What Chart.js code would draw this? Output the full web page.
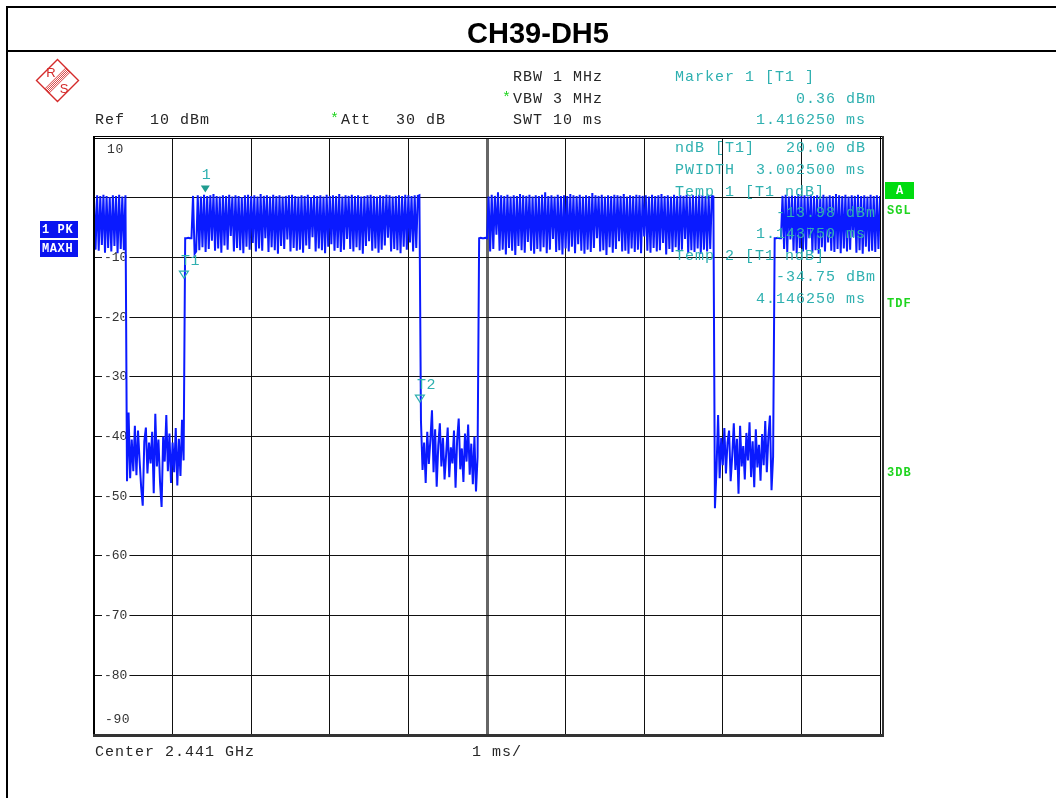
<!DOCTYPE html>
<html>
<head>
<meta charset="utf-8">
<script src="https://cdn.jsdelivr.net/npm/chart.js@4.4.1/dist/chart.umd.min.js"></script>
<style>
  body { margin: 0; background: #fff; }
  canvas { display: block; }
</style>
</head>
<body>
<canvas id="scope" width="1056" height="798"></canvas>
<script>
// zero span sweep, 501 trace points over 10 ms
const sweepStep = 0.02;

const burst1 = [0.2, -8.7, 0.4, -8.9, 0.3, -7.9, 0.5, -9.2, 0.3, -8.4, 0.1, -9.0, 0.4, -8.1, 0.3, -9.3, 0.5, -8.6, 0.2, -8.8, 0.4];
const noise1 = [-47.5, -36.0, -47.0, -40.5, -45.8, -38.2, -46.5, -39.0, -44.0, -48.5,
  -51.6, -40.8, -38.5, -46.2, -41.0, -44.5, -39.2, -49.5, -36.2, -45.0,
  -40.5, -47.6, -51.8, -40.0, -44.2, -36.4, -45.8, -39.5, -47.8, -41.0,
  -46.0, -38.6, -48.2, -40.4, -46.6, -37.2, -44.0];
const step1 = [-6.8, -6.8, -6.7, -6.8, -6.8];
const burst2 = [0.3, -9.4, -9.0, 0.4, -8.8, 0.2, -8.3, 0.5, -9.1, 0.3,
  -8.6, 0.4, -7.2, 0.6, -8.9, 0.3, -8.5, 0.2, -9.2, 0.4,
  -8.0, 0.3, -8.7, 0.5, -6.4, 0.2, -9.0, 0.4, -8.4, 0.3,
  -8.8, 0.1, -9.3, 0.4, -8.2, 0.5, -8.7, 0.3, -7.6, 0.4,
  -9.0, 0.2, -8.5, 0.6, -8.9, 0.3, -6.8, 0.4, -9.1, 0.2,
  -8.3, 0.5, -8.8, 0.3, -9.4, 0.4, -8.1, 0.2, -8.6, 0.3,
  -7.0, 0.4, -9.0, 0.5, -8.4, 0.3, -8.9, 0.2, -8.7, 0.4,
  -9.2, 0.3, -8.0, 0.5, -8.6, 0.1, -6.6, 0.4, -9.0, 0.3,
  -8.5, 0.4, -8.8, 0.2, -9.3, 0.5, -8.2, 0.3, -7.8, 0.4,
  -8.9, 0.3, -8.4, 0.6, -9.1, 0.2, -8.7, 0.4, -6.9, 0.3,
  -8.6, 0.5, -9.0, 0.3, -8.3, 0.4, -8.8, 0.2, -9.4, 0.3,
  -8.1, 0.4, -7.3, 0.5, -8.9, 0.3, -8.5, 0.2, -9.2, 0.4,
  -8.7, 0.3, -8.0, 0.5, -6.7, 0.4, -9.0, 0.2, -8.6, 0.3,
  -8.8, 0.4, -9.3, 0.3, -8.2, 0.5, -8.7, 0.4, -7.5, 0.3,
  -9.0, 0.4, -8.4, 0.3, 0.4];
const noise2 = [-37.5, -45.6, -41.0, -47.8, -39.2, -44.6, -40.5, -35.6, -46.0, -38.8,
  -48.4, -41.5, -37.8, -45.0, -40.2, -47.2, -43.0, -38.5, -46.8, -41.8,
  -44.5, -39.0, -48.6, -40.6, -37.0, -45.5, -42.0, -47.6, -39.5, -44.2,
  -38.0, -46.4, -41.2, -48.0, -40.0, -49.2, -43.4];
const step2 = [-6.8, -6.7, -6.8, -6.8, -6.7, -6.8];
const burst3 = [0.2, -9.0, 0.5, -8.6, 0.3, -6.2, 0.9, -8.9, 0.4, -8.7,
  0.3, -9.5, 0.5, -8.4, 0.2, -8.9, 0.4, -9.6, 0.3, -8.1,
  0.6, -8.8, 0.4, -9.2, 0.3, -7.4, 0.5, -8.9, 0.2, -9.4,
  0.4, -8.6, 0.3, -9.0, 0.5, -8.3, 0.9, -9.3, 0.3, -8.7,
  0.4, -6.9, 0.2, -9.1, 0.5, -8.8, 0.3, -9.5, 0.4, -8.5,
  0.3, -9.0, 0.6, -8.2, 0.4, -9.3, 0.3, -7.8, 0.5, -8.9,
  0.2, -9.4, 0.4, -8.7, 0.3, -9.1, 0.8, -8.4, 0.4, -6.8,
  0.3, -9.0, 0.5, -8.8, 0.2, -9.6, 0.4, -8.3, 0.3, -9.2,
  0.5, -8.6, 0.4, -7.3, 0.3, -9.0, 0.6, -8.9, 0.2, -9.4,
  0.4, -8.5, 0.3, -9.1, 0.5, -8.7, 0.4, -9.3, 0.3, -6.5,
  0.4, -8.9, 0.2, -9.2, 0.5, -8.4, 0.3, -9.0, 0.4, -8.8,
  0.6, -7.6, 0.3, -9.5, 0.4, -8.6, 0.2, -9.1, 0.5, -8.3,
  0.3, -9.0, 0.4, -8.7, 0.3, -6.9, 0.5, -9.3, 0.2, -8.8,
  0.4, -9.1, 0.3, -8.5, 0.5, -9.4, 0.4, -8.7, 0.3, -9.0,
  0.4, -8.6, 0.3, 0.2];
const noise3 = [-52.0, -45.5, -36.4, -47.0, -40.2, -44.8, -38.6, -46.2, -41.0, -39.0,
  -47.5, -43.2, -37.8, -45.6, -40.4, -49.6, -38.2, -45.0, -41.6, -47.2,
  -39.4, -44.0, -37.6, -46.8, -40.8, -48.5, -38.8, -45.2, -41.4, -47.4,
  -39.6, -44.8, -37.4, -46.0, -40.0, -36.5, -49.0, -43.4];
const step3 = [-6.8, -6.8, -6.7, -6.8, -6.8];
const burst4 = [0.3, -8.6, 0.5, -9.1, 0.2, -7.0, 0.4, -8.9, 0.3, -9.3,
  0.6, -8.4, 0.3, -9.0, 0.4, -8.7, 0.2, -6.8, 0.5, -9.2,
  0.3, -8.8, 0.4, -9.4, 0.3, -8.3, 0.5, -9.0, 0.2, -7.5,
  0.4, -8.9, 0.3, -9.1, 0.6, -8.6, 0.4, -9.3, 0.3, -8.5,
  0.5, -9.0, 0.2, -8.7, 0.4, -6.6, 0.3, -9.2, 0.5, -8.8,
  0.3, -9.4, 0.4, -8.2, 0.2, -9.0, 0.5, -8.9, 0.3, -9.1,
  0.4, -8.6, 0.3];

const markerNames = ["1", "T1", "T2"];
const markerTimes = [1.41625, 1.14375, 4.14625];
const markerLevels = [0.36, -13.98, -34.75];

const yTickValues = [10, 0, -10, -20, -30, -40, -50, -60, -70, -80, -90];

const trace = [].concat(burst1, noise1, step1, burst2, noise2, step2, burst3, noise3, step3, burst4);
const traceData = trace.map((v, i) => ({ x: i * sweepStep, y: v }));

const MONO = '"Liberation Mono", "DejaVu Sans Mono", monospace';
const TEAL = "#2fb0b0";
const INK = "#262626";
const GREEN = "#1fd41f";

function txt(ctx, s, x, y, color, font, spacing, align) {
  ctx.save();
  ctx.font = font || ("15px " + MONO);
  ctx.letterSpacing = spacing || "1px";
  ctx.fillStyle = color || INK;
  ctx.textAlign = align || "left";
  ctx.textBaseline = "middle";
  ctx.fillText(s, x, y);
  ctx.restore();
}

function drawLogo(ctx) {
  const cx = 57.5, cy = 80.5, r = 21;
  ctx.save();
  ctx.strokeStyle = "#d42a2a";
  ctx.lineWidth = 1.4;
  ctx.beginPath();
  ctx.moveTo(cx, cy - r);
  ctx.lineTo(cx + r, cy);
  ctx.lineTo(cx, cy + r);
  ctx.lineTo(cx - r, cy);
  ctx.closePath();
  ctx.stroke();
  ctx.lineWidth = 0.9;
  for (let d = -3; d <= 3; d += 1.5) {
    const ox = d * 0.707, oy = d * 0.707;
    ctx.beginPath();
    ctx.moveTo(cx + r / 2 + ox, cy - r / 2 + oy);
    ctx.lineTo(cx - r / 2 + ox, cy + r / 2 + oy);
    ctx.stroke();
  }
  ctx.fillStyle = "#d42a2a";
  ctx.font = '13px "Liberation Sans", sans-serif';
  ctx.textAlign = "center";
  ctx.textBaseline = "middle";
  ctx.fillText("R", 51, 73);
  ctx.fillText("S", 64, 89);
  ctx.restore();
}

const analyzerPage = {
  id: "analyzerPage",
  beforeDraw(chart) {
    const ctx = chart.ctx;
    ctx.save();
    ctx.fillStyle = "#fff";
    ctx.fillRect(0, 0, chart.width, chart.height);
    ctx.fillStyle = "#000";
    ctx.fillRect(6, 6, 1050, 2);
    ctx.fillRect(6, 50, 1050, 2);
    ctx.fillRect(6, 6, 2, 792);
    ctx.font = 'bold 29px "Liberation Sans", Arial, sans-serif';
    ctx.textAlign = "center";
    ctx.textBaseline = "alphabetic";
    ctx.fillText("CH39-DH5", 538, 43);
    ctx.restore();

    drawLogo(ctx);

    txt(ctx, "RBW 1 MHz", 513, 77);
    txt(ctx, "*", 502, 98, GREEN);
    txt(ctx, "VBW 3 MHz", 513, 99);
    txt(ctx, "SWT 10 ms", 513, 120);
    txt(ctx, "Ref", 95, 120);
    txt(ctx, "10 dBm", 150, 120);
    txt(ctx, "*", 330, 119, GREEN);
    txt(ctx, "Att", 341, 120);
    txt(ctx, "30 dB", 396, 120);
    txt(ctx, "Marker 1 [T1 ]", 675, 77, TEAL);
    txt(ctx, "0.36 dBm", 796, 99, TEAL);
    txt(ctx, "1.416250 ms", 756, 120, TEAL);
  },
  afterDatasetsDraw(chart) {
    const ctx = chart.ctx;
    const xs = chart.scales.x, ys = chart.scales.y;
    const a = chart.chartArea;
    const tickFont = "13px " + MONO;

    // y labels at the top and bottom edges
    txt(ctx, String(yTickValues[0]), a.left + 13, ys.getPixelForValue(yTickValues[0]) + 12, "#333", tickFont, "0.6px");
    txt(ctx, String(yTickValues[yTickValues.length - 1]), a.left + 11, ys.getPixelForValue(yTickValues[yTickValues.length - 1]) - 15, "#333", tickFont, "0.6px");

    // markers
    markerTimes.forEach((t, i) => {
      const px = xs.getPixelForValue(t);
      const tip = ys.getPixelForValue(markerLevels[i]) - 3;
      ctx.save();
      ctx.beginPath();
      ctx.moveTo(px - 4.5, tip - 7);
      ctx.lineTo(px + 4.5, tip - 7);
      ctx.lineTo(px, tip);
      ctx.closePath();
      if (i === 0) {
        ctx.fillStyle = "#1f9c8f";
        ctx.fill();
      } else {
        ctx.strokeStyle = TEAL;
        ctx.lineWidth = 1.2;
        ctx.stroke();
      }
      ctx.restore();
      if (i === 0) txt(ctx, markerNames[i], px + 1, tip - 18, TEAL, null, "0px", "center");
      else txt(ctx, markerNames[i], px - 3, tip - 17, TEAL, null, "0.5px");
    });

    // marker readout inside the diagram
    txt(ctx, "ndB [T1]", 675, 148, TEAL);
    txt(ctx, "20.00 dB", 786, 148, TEAL);
    txt(ctx, "PWIDTH", 675, 170, TEAL);
    txt(ctx, "3.002500 ms", 756, 170, TEAL);
    txt(ctx, "Temp 1 [T1 ndB]", 675, 192, TEAL);
    txt(ctx, "-13.98 dBm", 776, 213, TEAL);
    txt(ctx, "1.143750 ms", 756, 234, TEAL);
    txt(ctx, "Temp 2 [T1 ndB]", 675, 256, TEAL);
    txt(ctx, "-34.75 dBm", 776, 277, TEAL);
    txt(ctx, "4.146250 ms", 756, 299, TEAL);

    // diagram frame
    ctx.save();
    ctx.fillStyle = "#000";
    ctx.fillRect(a.left - 1, a.top - 2, a.right - a.left + 4, 1);
    ctx.fillRect(a.left - 1, a.top, a.right - a.left + 4, 1);
    ctx.fillRect(a.left - 1, a.top - 2, 2, a.bottom - a.top + 4);
    ctx.fillRect(a.right, a.top - 2, 1, a.bottom - a.top + 4);
    ctx.fillStyle = "#333";
    ctx.fillRect(a.right + 2, a.top - 2, 2, a.bottom - a.top + 4);
    ctx.fillRect(a.left - 1, a.bottom - 1, a.right - a.left + 5, 3);
    ctx.restore();

    // side labels
    ctx.save();
    ctx.fillStyle = "#0a14f0";
    ctx.fillRect(40, 221, 38, 17);
    ctx.fillRect(40, 240, 38, 17);
    ctx.fillStyle = "#00dc10";
    ctx.fillRect(885, 182, 29, 17);
    ctx.restore();
    const sideFont = "bold 12px " + MONO;
    txt(ctx, "1 PK", 42, 230, "#fff", sideFont, "0.6px");
    txt(ctx, "MAXH", 42, 249, "#fff", sideFont, "0.6px");
    txt(ctx, "A", 899.5, 191, "#fff", sideFont, "0px", "center");
    txt(ctx, "SGL", 887, 211, GREEN, sideFont, "1px");
    txt(ctx, "TDF", 887, 304, GREEN, sideFont, "1px");
    txt(ctx, "3DB", 887, 473, GREEN, sideFont, "1px");

    txt(ctx, "Center 2.441 GHz", 95, 752);
    txt(ctx, "1 ms/", 472, 752);
  }
};

new Chart(document.getElementById("scope"), {
  type: "line",
  data: {
    datasets: [{
      data: traceData,
      borderColor: "#0a1aff",
      borderWidth: 2,
      pointRadius: 0,
      tension: 0,
      fill: false
    }]
  },
  options: {
    responsive: false,
    animation: false,
    events: [],
    parsing: false,
    layout: { autoPadding: false, padding: { left: 94, right: 176, top: 138, bottom: 63 } },
    plugins: { legend: { display: false }, tooltip: { enabled: false } },
    scales: {
      x: {
        type: "linear",
        min: 0,
        max: 10,
        ticks: { stepSize: 1, display: false },
        border: { display: false },
        grid: {
          drawTicks: false,
          color: c => (c.tick && c.tick.value === 5 ? "#666" : "#111"),
          lineWidth: c => (c.tick && c.tick.value === 5 ? 3 : 1)
        },
        afterFit: s => { s.height = 0; }
      },
      y: {
        type: "linear",
        min: yTickValues[yTickValues.length - 1],
        max: yTickValues[0],
        border: { display: false },
        grid: { drawTicks: false, color: "#111", lineWidth: 1 },
        ticks: {
          stepSize: 10,
          mirror: true,
          padding: 10,
          color: "#333",
          font: { family: MONO, size: 13 },
          showLabelBackdrop: true,
          backdropPadding: 2,
          backdropColor: c => ([10, 0, -90].includes(c.tick.value) ? "rgba(0,0,0,0)" : "#fff"),
          callback: v => ([10, 0, -90].includes(v) ? "" : String(v))
        },
        afterFit: s => { s.width = 0; }
      }
    }
  },
  plugins: [analyzerPage]
});
</script>
</body>
</html>
